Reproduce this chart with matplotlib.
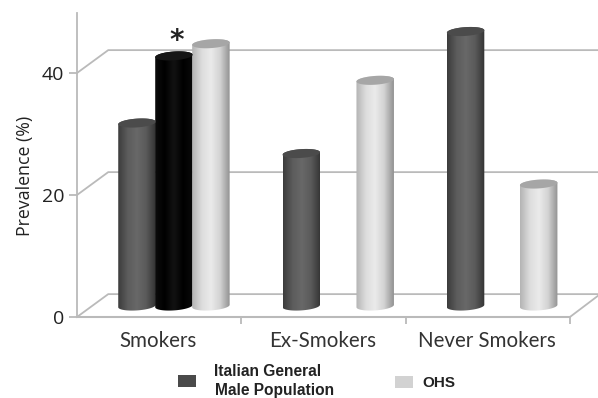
import numpy as np
import matplotlib
matplotlib.use("Agg")
import matplotlib.pyplot as plt
from matplotlib.colors import LinearSegmentedColormap
from matplotlib.patches import PathPatch, Polygon, Rectangle
from matplotlib.path import Path

categories = ["Smokers", "Ex-Smokers", "Never Smokers"]
italian = [30, 25, 45]
ohs = [43, 37, 20]
smokers_starred = [41]
yticks = [0, 20, 40]

W, H = 598, 398
FLOOR_DX = 0.19     # depth of the floor in category units
FLOOR_DY = 3.75     # depth of the floor in percent
BASE = 1.8          # bars stand a little behind the front edge
BAR_W = 0.228
RX_TILT = 0.2       # rise of the cap from centre to right edge
RY = 0.72           # half height of the cap

dark_cm = LinearSegmentedColormap.from_list("dark", ["#3c3c3c", "#5c5c5c", "#686868", "#5a5a5a", "#333333"])
black_cm = LinearSegmentedColormap.from_list("black", ["#0c0c0c", "#000000", "#121212", "#000000", "#0a0a0a"])
light_cm = LinearSegmentedColormap.from_list("light", ["#b4b4b4", "#dcdcdc", "#ebebeb", "#d2d2d2", "#929292"])


def ellipse(cx, cy, t):
	x = cx + BAR_W / 2 * np.cos(t)
	y = cy + RX_TILT * np.cos(t) + RY * np.sin(t)
	return x, y


def cylinder(ax, cx, value, cmap, capcolor):
	top = BASE + value
	t_low = np.linspace(np.pi, 2 * np.pi, 40)
	t_up = np.linspace(0, np.pi, 40)
	xb, yb = ellipse(cx, BASE, t_low)
	xt, yt = ellipse(cx, top, t_up)
	pts = np.column_stack([np.r_[xb, xt], np.r_[yb, yt]])
	pts = np.vstack([pts, pts[0]])
	body = PathPatch(Path(pts), facecolor="none", edgecolor="none", transform=ax.transData)
	ax.add_patch(body)
	grad = np.linspace(0, 1, 64).reshape(1, -1)
	im = ax.imshow(grad, cmap=cmap, aspect="auto", zorder=3, interpolation="bilinear",
				   extent=[cx - BAR_W / 2, cx + BAR_W / 2, BASE - 2, top + 2])
	im.set_clip_path(body)
	t = np.linspace(0, 2 * np.pi, 80)
	xc, yc = ellipse(cx, top, t)
	ax.add_patch(Polygon(np.column_stack([xc, yc]), closed=True, facecolor=capcolor,
						 edgecolor="none", zorder=4))


fig = plt.figure(figsize=(W / 100, H / 100), dpi=100)
ax = fig.add_axes([77 / W, 1 - 317 / H, (W - 77) / W, 304 / H])
ax.set_facecolor("none")

# left wall and floor, then one line per gridline along the back
linecol = "#bababa"
for v in yticks:
	ax.plot([0, FLOOR_DX, 3.172], [v, v + FLOOR_DY, v + FLOOR_DY], color=linecol, lw=1.3, zorder=1, clip_on=False)
ax.plot([0, 3], [0, 0], color=linecol, lw=1.5, zorder=1, clip_on=False)
ax.plot([3, 3.172], [0, 3.5], color=linecol, lw=1.3, zorder=1, clip_on=False)

# bars, each group laid out from its left edge
for i in range(3):
	cylinder(ax, i + 0.365, italian[i], dark_cm, "#4b4b4b")
cylinder(ax, 0.59, smokers_starred[0], black_cm, "#161616")
for i, off in enumerate([0.815, 0.815, 0.81]):
	cylinder(ax, i + off, ohs[i], light_cm, "#a6a6a6")

ax.text(0.605, smokers_starred[0] + 4.3, "*", fontsize=20, fontweight="bold", color="#222222",
		ha="center", va="center", family="DejaVu Sans", zorder=5)

ax.set_xlim(0, (W - 77) / 164.3)
ax.set_ylim(0, 304 / 6.1)
for s in ["top", "right", "bottom"]:
	ax.spines[s].set_visible(False)
ax.spines["left"].set_color(linecol)
ax.spines["left"].set_linewidth(1.3)

ax.set_yticks(yticks)
ax.set_yticklabels([str(v) for v in yticks], fontsize=14, color="#222222", family="Open Sans")
ax.tick_params(axis="y", length=6, width=1.3, color=linecol, pad=3)
ax.set_ylabel("Prevalence (%)", fontsize=12.8, color="#222222", family="Open Sans")
ax.yaxis.set_label_coords(-43 / (W - 77), 0.465)

ax.set_xticks([1, 2, 3])
ax.set_xticklabels([])
ax.tick_params(axis="x", length=5, width=1.3, color=linecol)
for i, c in enumerate(categories):
	ax.text(i + 0.495, -4.0, c, fontsize=14.8, color="#333333", ha="center", va="center",
			family="Lato", clip_on=False)

# legend
fig.patches.append(Rectangle((178 / W, 1 - 387 / H), 18 / W, 12 / H, transform=fig.transFigure, facecolor="#4a4a4a", edgecolor="none"))
fig.patches.append(Rectangle((395 / W, 1 - 388 / H), 18 / W, 12 / H, transform=fig.transFigure, facecolor="#d2d2d2", edgecolor="none"))
fig.text(214 / W, 1 - 372 / H, "Italian General", fontsize=11.2, fontweight="bold", family="Liberation Sans", color="#222222", va="center")
fig.text(215 / W, 1 - 391 / H, "Male Population", fontsize=11.2, fontweight="bold", family="Liberation Sans", color="#222222", va="center")
fig.text(422 / W, 1 - 383 / H, "OHS", fontsize=11, fontweight="bold", family="Liberation Sans", color="#222222", va="center")

fig.savefig("out.png", dpi=100)
